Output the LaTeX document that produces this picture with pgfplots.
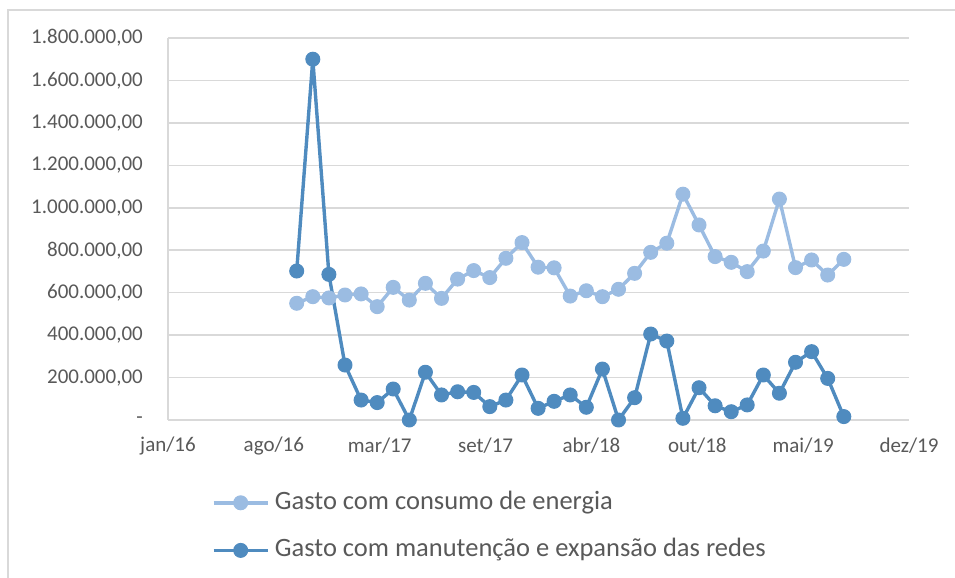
\documentclass[border=0pt]{standalone}
\usepackage{fontspec}
\setmainfont{Carlito}
\usepackage{pgfplots}
\usepackage{pgfplotstable}
\pgfplotsset{compat=1.18}
\definecolor{lightser}{RGB}{155,188,226}
\definecolor{darkser}{RGB}{79,139,191}
\definecolor{txt}{RGB}{89,89,89}
\definecolor{gridc}{RGB}{217,217,217}
\pgfplotstableread{
x      energia   redes
128.7  550000    702000
144.8  581000    1700000
160.9  575000    686000
177.0  589000    259000
193.1  594000    94000
209.2  534000    82000
225.2  625000    146000
241.3  565000    0
257.4  644000    225000
273.5  573000    118000
289.6  664000    133000
305.7  704000    130000
321.8  671000    63000
337.9  762000    94000
354.0  836000    212000
370.1  720000    55000
386.1  717000    88000
402.2  584000    118000
418.3  609000    60000
434.4  581000    240000
450.5  616000    0
466.6  691000    105000
482.7  790000    405000
498.8  833000    372000
514.9  1064000   8000
531.0  919000    152000
547.1  770000    67000
563.2  743000    39000
579.2  699000    71000
595.3  796000    212000
611.4  1041000   126000
627.5  718000    272000
643.6  754000    322000
659.7  683000    196000
675.8  757000    16000
}\datatable
\begin{document}
\begin{tikzpicture}[x=1bp,y=1bp]
\useasboundingbox (0,0) rectangle (955,578);
\draw[gridc, line width=1.5bp] (8,-5) -- (8,568) -- (960,568);
\begin{axis}[
  at={(168bp,158bp)}, anchor=south west,
  width=741bp, height=382bp, scale only axis,
  xmin=0, xmax=741, ymin=0, ymax=1800000,
  scaled y ticks=false, scaled x ticks=false,
  xtick={0,105.857,211.714,317.571,423.429,529.286,635.143,741},
  xticklabels={jan/16,ago/16,mar/17,set/17,abr/18,out/18,mai/19,dez/19},
  ytick={0,200000,400000,600000,800000,1000000,1200000,1400000,1600000,1800000},
  yticklabels={{-\hspace{10bp}},{200.000,00},{400.000,00},{600.000,00},{800.000,00},{1.000.000,00},{1.200.000,00},{1.400.000,00},{1.600.000,00},{1.800.000,00}},
  ymajorgrids, grid style={gridc, line width=1.5bp},
  axis x line*=bottom, axis y line*=left,
  axis line style={gridc, line width=1.5bp, -},
  major tick length=0pt,
  tick label style={font=\fontsize{21bp}{25bp}\selectfont, text=txt},
  yticklabel style={anchor=east, inner sep=0pt, xshift=-25bp},
  xticklabel style={anchor=center, inner sep=0pt, yshift=-26bp},
  clip=false,
  legend cell align=left,
  legend style={draw=none, fill=none, inner sep=0pt, column sep=0pt, row sep=22.2bp,
    at={(axis description cs:0.0591,-0.1830)}, anchor=north west,
    font=\fontsize{26.5bp}{30bp}\selectfont, text=txt,
    nodes={inner xsep=5.5bp, inner ysep=0pt, text height=19.2bp, text depth=6.2bp}},
  legend image code/.code={\draw[mark repeat=2,mark phase=2] plot coordinates {(0bp,0bp)(27bp,0bp)(54bp,0bp)};},
]
\addplot[lightser, line width=3.4bp, line join=round, mark=*, mark size=7bp,
  mark options={solid, draw=lightser, fill=lightser, line width=1bp}]
  table[x=x, y=energia] {\datatable};
\addlegendentry{Gasto com consumo de energia}
\addplot[darkser, line width=3.4bp, line join=round, mark=*, mark size=7bp,
  mark options={solid, draw=darkser, fill=darkser, line width=1bp}]
  table[x=x, y=redes] {\datatable};
\addlegendentry{Gasto com manutenção e expansão das redes}
\end{axis}
\end{tikzpicture}
\end{document}
